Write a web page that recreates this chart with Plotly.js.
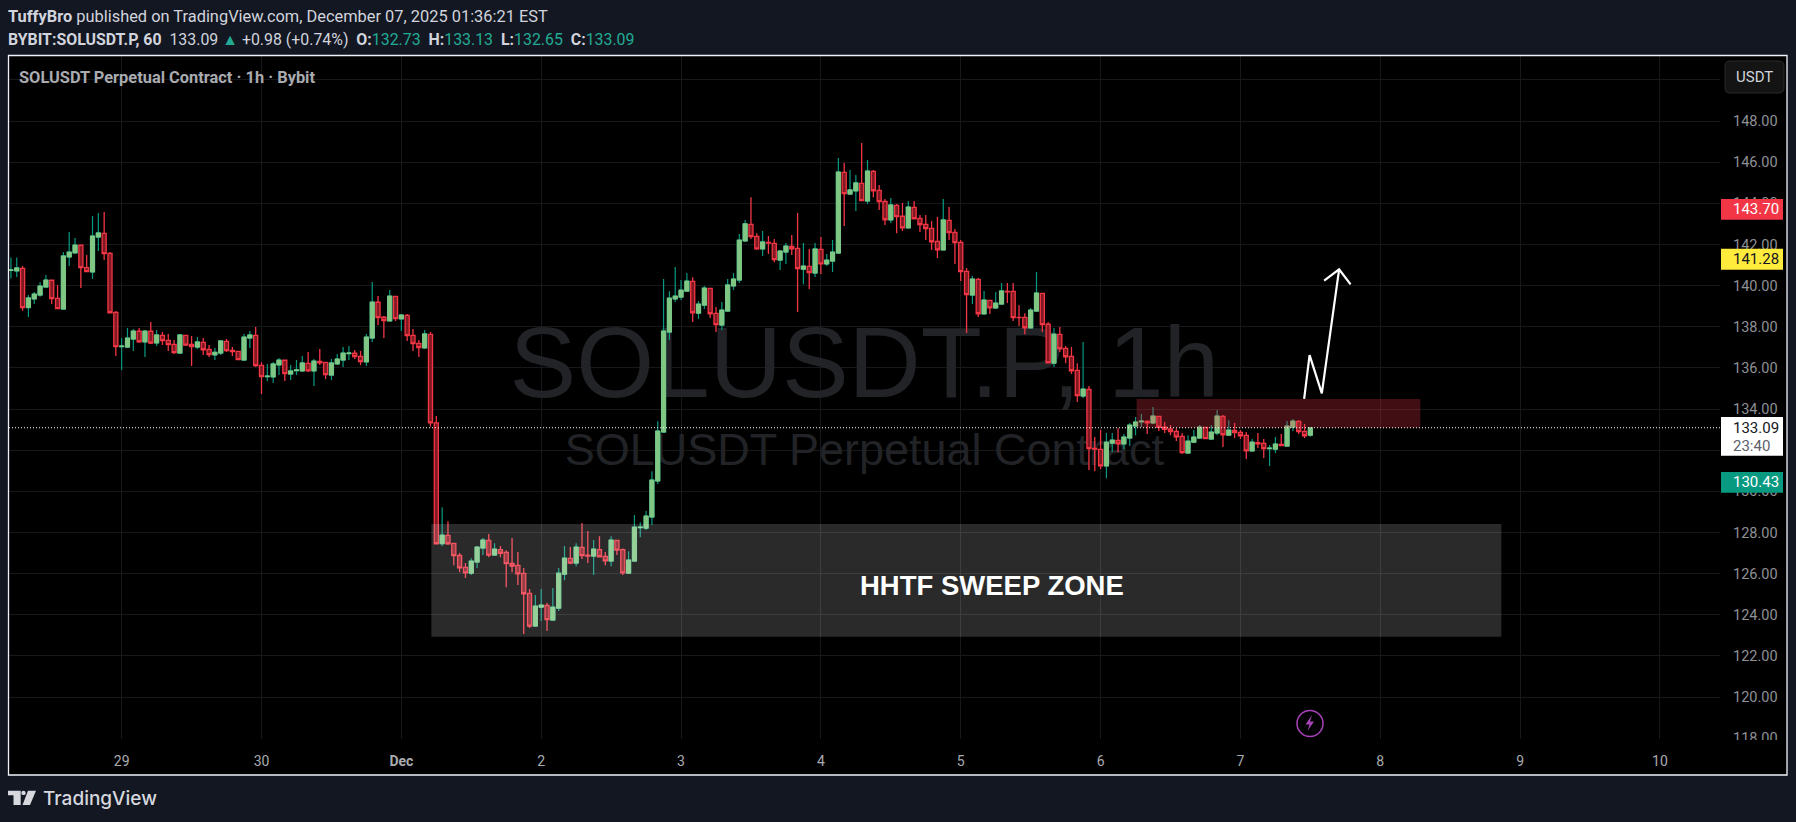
<!DOCTYPE html>
<html>
<head>
<meta charset="utf-8">
<script src="https://cdn.plot.ly/plotly-3.0.1.min.js"></script>
<style>
html, body { margin: 0; padding: 0; background: #131722; overflow: hidden; }
#chart { width: 1796px; height: 822px; }
</style>
</head>
<body>
<div id="chart"></div>
<script>
const firstCandle = Date.UTC(2025, 10, 28, 5)

const opens = [
    140.74,140.71,140.84,138.93,139.35,139.54,139.93,140.26,139.38,138.86,141.39,141.59,141.96,140.87,140.66,142.36,142.54,141.57,138.70,
    137.03,137.01,137.40,137.78,137.26,137.78,137.21,137.58,137.34,137.14,136.72,137.58,137.14,137.01,137.24,136.90,136.63,136.72,137.29,136.85,136.80,136.38,137.45,137.58,
    136.12,135.57,135.56,136.14,136.37,135.70,135.86,135.85,136.22,135.85,136.32,136.27,135.65,136.19,136.38,136.69,136.71,136.56,136.29,137.45,139.19,138.46,138.28,139.48,
    138.38,138.55,137.58,137.19,136.97,137.63,133.33,127.45,127.86,127.47,126.88,126.30,126.02,126.56,127.24,127.61,126.90,127.17,127.03,126.49,126.40,126.01,125.04,123.45,
    124.37,124.45,123.74,124.32,125.97,126.74,126.51,127.27,126.90,126.85,127.17,126.83,126.61,127.61,127.17,126.02,126.61,128.23,128.21,128.75,130.50,132.88,137.74,139.35,
    139.44,139.73,140.20,138.66,139.05,139.86,138.65,138.08,138.76,139.98,140.27,142.17,142.98,142.39,141.78,142.10,142.05,141.24,141.63,141.91,141.81,140.80,140.93,140.61,
    141.76,141.05,141.19,141.58,145.50,144.45,144.60,144.97,144.11,145.55,144.63,144.09,143.19,143.90,143.37,142.80,143.80,143.27,142.98,142.78,142.15,141.73,143.17,142.59,
    142.10,140.69,139.54,140.30,138.62,139.28,138.91,139.10,139.72,139.72,138.45,138.45,137.94,138.76,139.62,138.12,136.23,137.63,136.95,136.56,135.88,134.63,134.95,132.09,
    132.04,131.23,132.34,132.47,132.30,132.59,133.17,133.38,133.40,133.32,133.64,133.12,133.03,132.91,132.67,131.86,132.39,132.59,133.11,132.54,132.83,133.64,132.73,132.96,
    132.86,132.72,131.96,132.37,132.33,132.07,132.05,132.28,132.20,133.12,133.40,132.91,132.73
]
const highs = [
    141.37,141.37,140.95,139.54,139.69,140.16,140.52,140.26,140.03,141.63,142.61,142.31,141.96,141.49,143.38,143.53,143.58,141.63,138.76,
    137.45,137.94,137.89,137.94,137.84,138.23,137.84,137.74,137.65,137.35,137.65,137.60,137.55,137.50,137.45,137.11,136.97,137.35,137.40,137.01,136.82,137.65,137.79,137.99,
    136.27,136.19,136.29,136.48,136.38,136.14,136.38,136.58,136.77,136.43,136.92,136.27,136.43,136.67,137.01,137.06,136.87,136.82,137.65,140.17,139.49,138.52,139.79,139.49,
    138.62,138.62,137.89,137.35,137.84,137.74,133.66,129.23,128.55,127.47,127.00,126.51,126.75,127.34,127.73,127.92,127.48,127.34,127.14,127.73,127.05,126.27,125.25,124.96,
    125.25,124.57,125.30,126.27,127.34,127.29,127.48,128.46,128.07,127.63,127.82,127.05,127.82,127.63,127.22,127.09,128.85,128.50,129.04,130.98,133.41,140.32,139.73,140.90,
    140.27,140.61,140.41,139.25,139.98,139.86,138.96,139.20,140.32,140.61,142.51,143.19,144.30,142.55,142.65,142.41,142.26,141.73,142.07,142.46,143.53,142.07,141.78,142.07,
    142.36,141.53,142.21,146.20,145.96,145.62,145.37,146.93,146.10,145.62,144.89,144.21,144.26,143.96,144.01,144.11,144.11,143.43,143.43,143.14,143.33,144.21,143.82,142.75,
    142.21,140.85,140.46,140.37,139.74,139.30,139.69,140.12,140.12,140.12,139.05,138.66,138.91,140.66,139.64,138.23,137.94,137.99,137.06,137.01,136.23,137.26,135.12,132.64,
    132.98,132.83,132.83,133.07,132.78,133.32,133.61,133.76,133.46,134.10,133.66,133.37,133.22,133.07,132.83,132.73,132.98,133.22,133.12,133.22,133.95,133.71,133.46,133.32,
    132.98,132.88,132.54,132.83,132.54,132.25,132.64,132.78,133.42,133.51,133.46,133.27,133.13
]
const lows = [
    140.34,140.42,138.78,138.47,139.11,139.46,139.93,139.11,138.88,138.86,140.95,141.55,139.88,140.68,140.32,141.68,141.24,138.68,136.58,
    135.90,136.97,136.82,137.21,136.53,137.16,137.06,137.11,136.82,136.67,136.72,137.06,136.09,136.92,136.63,136.53,136.38,136.63,136.77,136.58,136.38,136.38,136.97,136.04,
    134.73,135.36,135.26,135.65,135.36,135.41,135.65,135.80,135.80,135.12,136.14,135.46,135.41,136.14,136.04,136.38,136.43,136.14,136.09,137.26,138.08,137.45,138.28,138.28,
    137.79,137.31,136.82,136.53,136.92,133.14,127.45,127.34,127.39,126.41,126.07,125.78,125.93,126.27,126.90,126.80,126.90,126.80,125.34,126.07,125.44,123.06,123.35,123.45,
    123.69,123.21,123.74,124.18,125.68,126.46,126.36,126.71,126.51,125.93,126.80,126.41,126.36,126.90,125.93,126.02,126.61,127.77,128.12,128.36,130.35,132.88,137.35,139.20,
    139.30,139.73,138.23,138.37,138.86,138.42,137.74,137.84,138.76,139.78,140.12,142.12,142.26,141.73,141.44,141.53,141.14,140.76,141.05,141.49,138.71,140.07,139.83,140.42,
    140.56,140.95,140.66,141.53,142.90,144.45,143.62,144.11,143.96,144.30,143.67,142.94,143.04,142.55,142.65,142.80,143.24,142.60,142.21,141.73,141.34,141.73,142.21,141.05,
    140.22,137.69,139.10,138.47,138.62,138.62,138.86,139.10,139.15,138.28,138.03,137.64,137.94,138.71,137.74,136.25,136.04,136.77,136.23,135.70,134.34,134.53,131.03,130.98,
    131.08,130.64,131.91,131.91,132.05,132.20,132.73,133.12,132.78,133.27,132.93,132.83,132.73,132.44,131.81,131.86,132.34,132.59,132.54,132.49,132.73,132.15,132.73,132.59,
    132.54,131.57,131.96,132.10,131.62,131.23,131.86,132.20,132.20,132.93,132.78,132.59,132.65
]
const closes = [
    140.76,140.86,138.93,139.40,139.59,139.98,140.27,139.37,138.88,141.44,141.63,141.97,140.87,140.68,142.41,142.56,141.55,138.68,137.03,
    137.06,137.45,137.79,137.27,137.79,137.21,137.60,137.32,137.13,136.74,137.60,137.11,137.03,137.26,136.88,136.64,136.76,137.31,136.84,136.79,136.40,137.50,137.60,136.11,
    135.57,135.60,136.19,136.38,135.72,135.85,135.90,136.24,135.85,136.33,136.25,135.67,136.24,136.43,136.72,136.72,136.55,136.30,137.50,139.20,138.44,138.30,139.49,138.39,
    138.57,137.57,137.18,136.98,137.65,133.33,127.45,127.87,127.45,126.87,126.28,126.04,126.61,127.29,127.63,126.90,127.19,126.99,126.48,126.36,125.99,125.02,123.45,124.42,
    124.47,123.76,124.37,126.02,126.75,126.51,127.29,126.87,126.85,127.19,126.82,126.62,127.63,127.14,126.04,126.66,128.26,128.26,128.80,130.55,132.93,137.79,139.39,139.49,
    139.78,140.22,138.68,139.10,139.88,138.63,138.10,138.81,140.03,140.32,142.21,143.00,142.38,141.78,142.12,142.07,141.26,141.68,141.92,141.79,140.82,140.95,140.63,141.78,
    141.06,141.24,141.63,145.52,144.47,144.65,144.99,144.13,145.57,144.61,144.08,143.20,143.92,143.35,142.81,143.82,143.25,142.96,142.77,142.13,141.74,143.19,142.57,142.09,
    140.68,139.56,140.32,138.63,139.30,138.92,139.15,139.74,139.70,138.44,138.44,137.95,138.81,139.64,138.10,136.25,137.64,136.93,136.54,135.86,134.65,134.97,132.07,132.05,
    131.24,132.39,132.49,132.31,132.64,133.22,133.37,133.41,133.33,133.66,133.11,133.01,132.90,132.65,131.88,132.44,132.64,133.12,132.56,132.88,133.66,132.75,132.98,132.85,
    132.70,131.97,132.39,132.31,132.07,132.10,132.30,132.22,133.17,133.41,132.90,132.70,133.09
]

const dayTicks = ['2025-11-29','2025-11-30','2025-12-01','2025-12-02','2025-12-03','2025-12-04','2025-12-05','2025-12-06','2025-12-07','2025-12-08','2025-12-09','2025-12-10']
const dayLabels = ['29','30','<b>Dec</b>','2','3','4','5','6','7','8','9','10']

// drawings on the chart
const arrowTimes = ['2025-12-07 10:56','2025-12-07 11:52','2025-12-07 13:58','2025-12-07 16:56']
const arrowPrices = [134.49,136.62,134.76,140.79]
const headTimes = ['2025-12-07 14:22','2025-12-07 16:56','2025-12-07 18:54']
const headPrices = [140.24,140.79,140.06]

const priceTags = [
    {price: 143.70, bg: '#f23645', fg: '#ffffff'},
    {price: 141.28, bg: '#ffeb3b', fg: '#131722'},
    {price: 130.43, bg: '#089981', fg: '#ffffff'}
]
const lastPrice = 133.09

const xRange = ['2025-11-28 04:40','2025-12-10 10:18']
const yRange = [117.96,151.16]

const times = opens.map((v, i) => new Date(firstCandle + i * 3600000).toISOString().slice(0, 16).replace('T', ' '))
const upIdx = opens.map((v, i) => i).filter(i => closes[i] >= opens[i])

const W = 1796, H = 822
const plot = {l: 9, r: 1720, t: 56, b: 739}
const px = x => (x - plot.l) / (plot.r - plot.l)
const py = y => 1 - (y - plot.t) / (plot.b - plot.t)

const uiFont = 'Roboto, "Liberation Sans", sans-serif'
const text = (str, x, y, size, color, anchor) => ({
    text: str, xref: 'paper', yref: 'paper', x: px(x), y: py(y), xanchor: anchor || 'left', yanchor: 'middle',
    showarrow: false, font: {family: uiFont, size: size, color: color}
})
const box = (x0, y0, x1, y1, fill, layer) => ({
    type: 'rect', xref: 'paper', yref: 'paper', x0: px(x0), x1: px(x1), y0: py(y0), y1: py(y1),
    fillcolor: fill, line: {width: 0}, layer: layer || 'above'
})

const traces = [
    {
        type: 'scatter', mode: 'text', xaxis: 'x', yaxis: 'y', hoverinfo: 'skip', showlegend: false,
        x: ['2025-12-04 07:28','2025-12-04 07:28'], y: [135.8,131.83],
        text: ['SOLUSDT.P, 1h','SOLUSDT Perpetual Contract'],
        textposition: 'middle center',
        textfont: {family: '"Liberation Sans", Arial, sans-serif', size: [100,45], color: '#222327'}
    },
    {
        type: 'candlestick', xaxis: 'x2', yaxis: 'y2', hoverinfo: 'skip', showlegend: false,
        x: times, open: opens, high: highs, low: lows, close: closes, whiskerwidth: 0,
        increasing: {line: {color: '#089981', width: 1.2}, fillcolor: '#81c784'},
        decreasing: {line: {color: '#f23645', width: 1.3}, fillcolor: '#801922'}
    },
    {
        type: 'candlestick', xaxis: 'x2', yaxis: 'y2', hoverinfo: 'skip', showlegend: false,
        x: upIdx.map(i => times[i]), open: upIdx.map(i => opens[i]), close: upIdx.map(i => closes[i]),
        high: upIdx.map(i => closes[i]), low: upIdx.map(i => opens[i]), whiskerwidth: 0,
        increasing: {line: {color: '#81c784', width: 1}, fillcolor: '#81c784'},
        decreasing: {line: {color: '#81c784', width: 1}, fillcolor: '#81c784'}
    },
    {
        type: 'scatter', mode: 'lines', xaxis: 'x2', yaxis: 'y2', hoverinfo: 'skip', showlegend: false,
        x: arrowTimes, y: arrowPrices, line: {color: '#ffffff', width: 2.2}
    },
    {
        type: 'scatter', mode: 'lines', xaxis: 'x2', yaxis: 'y2', hoverinfo: 'skip', showlegend: false,
        x: headTimes, y: headPrices, line: {color: '#ffffff', width: 2.2}
    }
]

const shapes = [
    box(8, 55, 1787, 775, '#000000', 'below'),
    // zones
    {type: 'rect', xref: 'x2', yref: 'y2', x0: '2025-12-01 05:09', x1: '2025-12-08 20:46', y0: 122.93, y1: 128.41, fillcolor: 'rgba(255,255,255,0.165)', line: {width: 0}},
    {type: 'rect', xref: 'x2', yref: 'y2', x0: '2025-12-06 06:11', x1: '2025-12-08 06:52', y0: 133.09, y1: 134.49, fillcolor: 'rgba(242,54,69,0.27)', line: {width: 0}},
    // last price line
    {type: 'line', xref: 'paper', yref: 'y2', x0: 0, x1: 1, y0: lastPrice, y1: lastPrice, line: {color: '#ffffff', width: 1, dash: '1px,2px'}},
    // hide the part of the tick label under the time scale
    box(1721, 740, 1786, 774, '#000000'),
    // price tags
    box(1721, 417, 1783, 455.7, '#ffffff'),
    // USDT button
    {type: 'path', xref: 'paper', yref: 'paper', fillcolor: '#141414', line: {color: '#2a2a2c', width: 1},
        path: 'M' + px(1730) + ',' + py(61) + ' L' + px(1779) + ',' + py(61) + ' Q' + px(1784) + ',' + py(61) + ' ' + px(1784) + ',' + py(66) +
            ' L' + px(1784) + ',' + py(88) + ' Q' + px(1784) + ',' + py(93) + ' ' + px(1779) + ',' + py(93) +
            ' L' + px(1730) + ',' + py(93) + ' Q' + px(1725) + ',' + py(93) + ' ' + px(1725) + ',' + py(88) +
            ' L' + px(1725) + ',' + py(66) + ' Q' + px(1725) + ',' + py(61) + ' ' + px(1730) + ',' + py(61) + ' Z'},
    // alert icon
    {type: 'circle', xref: 'paper', yref: 'paper', x0: px(1297), x1: px(1323), y0: py(710.5), y1: py(736.5), line: {color: '#a742b8', width: 1.5}, fillcolor: 'rgba(0,0,0,0)'},
    {type: 'path', xref: 'paper', yref: 'paper', fillcolor: '#a742b8', line: {width: 0},
        path: 'M' + px(1312) + ',' + py(715) + ' L' + px(1305.5) + ',' + py(724.5) + ' L' + px(1309.5) + ',' + py(724.5) + ' L' + px(1307.5) + ',' + py(731) + ' L' + px(1314) + ',' + py(721.5) + ' L' + px(1310) + ',' + py(721.5) + ' Z'},
    // TradingView logo
    {type: 'path', xref: 'paper', yref: 'paper', fillcolor: '#d6d8de', line: {width: 0},
        path: 'M' + px(8) + ',' + py(790.7) + ' L' + px(20.7) + ',' + py(790.7) + ' L' + px(20.7) + ',' + py(805) + ' L' + px(13.5) + ',' + py(805) + ' L' + px(13.5) + ',' + py(795.2) + ' L' + px(8) + ',' + py(795.2) + ' Z'},
    {type: 'circle', xref: 'paper', yref: 'paper', x0: px(21.3), x1: px(25.7), y0: py(790.7), y1: py(795.1), fillcolor: '#d6d8de', line: {width: 0}},
    {type: 'path', xref: 'paper', yref: 'paper', fillcolor: '#d6d8de', line: {width: 0},
        path: 'M' + px(28) + ',' + py(790.7) + ' L' + px(36) + ',' + py(790.7) + ' L' + px(30) + ',' + py(805) + ' L' + px(22.5) + ',' + py(805) + ' Z'},
    // frame
    {type: 'rect', xref: 'paper', yref: 'paper', x0: px(8.5), x1: px(1787), y0: py(55.5), y1: py(775), line: {color: '#f0f3fa', width: 1.3}, fillcolor: 'rgba(0,0,0,0)'}
]
priceTags.forEach(t => {
    shapes.push({type: 'rect', xref: 'paper', yref: 'y2', x0: px(1721), x1: px(1783), ysizemode: 'pixel', yanchor: t.price, y0: -10.4, y1: 10.4, fillcolor: t.bg, line: {width: 0}})
})

const up = '#22ab94'
const stat = (k, v) => '<b>' + k + ':</b><span style="color:' + up + '">' + v + '</span>'
const annotations = [
    text('<b>TuffyBro</b> published on TradingView.com, December 07, 2025 01:36:21 EST', 6, 17, 16.4, '#d1d4dc'),
    text('<b>BYBIT:SOLUSDT.P, 60</b>  133.09 <span style="color:' + up + '">▲</span> +0.98 (+0.74%)  ' +
        stat('O', '132.73') + '  ' + stat('H', '133.13') + '  ' + stat('L', '132.65') + '  ' + stat('C', '133.09'), 6, 39, 15.9, '#d1d4dc'),
    text('<b>SOLUSDT Perpetual Contract · 1h · Bybit</b>', 17, 77, 16.4, '#a9abb0'),
    text('USDT', 1754.5, 77, 15, '#d1d4dc', 'center'),
    {
        text: 'TradingView', xref: 'paper', yref: 'paper', x: px(41), y: py(798), xanchor: 'left', yanchor: 'middle', showarrow: false,
        font: {family: 'Inter, Roboto, sans-serif', size: 19, weight: 500, color: '#d6d8de'}
    },
    {
        text: '<b>HHTF SWEEP ZONE</b>', xref: 'paper', yref: 'paper', x: px(992.5), y: py(585), yanchor: 'middle', showarrow: false,
        font: {family: '"Liberation Sans", Arial, sans-serif', size: 27.5, color: '#ffffff'}
    },
    text('133.09', 1731, 428, 15, '#131722'),
    text('23:40', 1731, 446, 15, '#5d606b')
]
priceTags.forEach(t => {
    annotations.push({
        text: t.price.toFixed(2), xref: 'paper', yref: 'y2', x: px(1731), y: t.price, xanchor: 'left', yanchor: 'middle',
        showarrow: false, font: {family: uiFont, size: 15, color: t.fg}
    })
})

const gridColor = '#17181b'
const layout = {
    width: W, height: H, autosize: false,
    margin: {l: plot.l, r: W - plot.r, t: plot.t, b: H - plot.b, pad: 0},
    paper_bgcolor: '#131722', plot_bgcolor: 'rgba(0,0,0,0)',
    showlegend: false, boxgap: 0.3, boxgroupgap: 0,
    font: {family: uiFont},
    xaxis: {
        type: 'date', range: xRange, tickmode: 'array', tickvals: dayTicks, ticktext: dayLabels,
        showgrid: true, gridcolor: gridColor, gridwidth: 1, zeroline: false, showline: false, ticks: '',
        ticklabelstandoff: 12, tickangle: 0, tickfont: {family: uiFont, size: 14, color: '#a9abb0'},
        rangeslider: {visible: false}
    },
    yaxis: {
        side: 'right', range: yRange, tick0: 0, dtick: 2, tickformat: '.2f',
        showgrid: true, gridcolor: gridColor, gridwidth: 1, zeroline: false, showline: false, ticks: '',
        ticklabelstandoff: 12, tickfont: {family: uiFont, size: 14.5, color: '#8f9197'}
    },
    xaxis2: {type: 'date', range: xRange, overlaying: 'x', visible: false, rangeslider: {visible: false}},
    yaxis2: {range: yRange, overlaying: 'y', side: 'right', visible: false},
    shapes: shapes,
    annotations: annotations
}

Plotly.newPlot('chart', traces, layout, {staticPlot: true, displayModeBar: false})
</script>
</body>
</html>
